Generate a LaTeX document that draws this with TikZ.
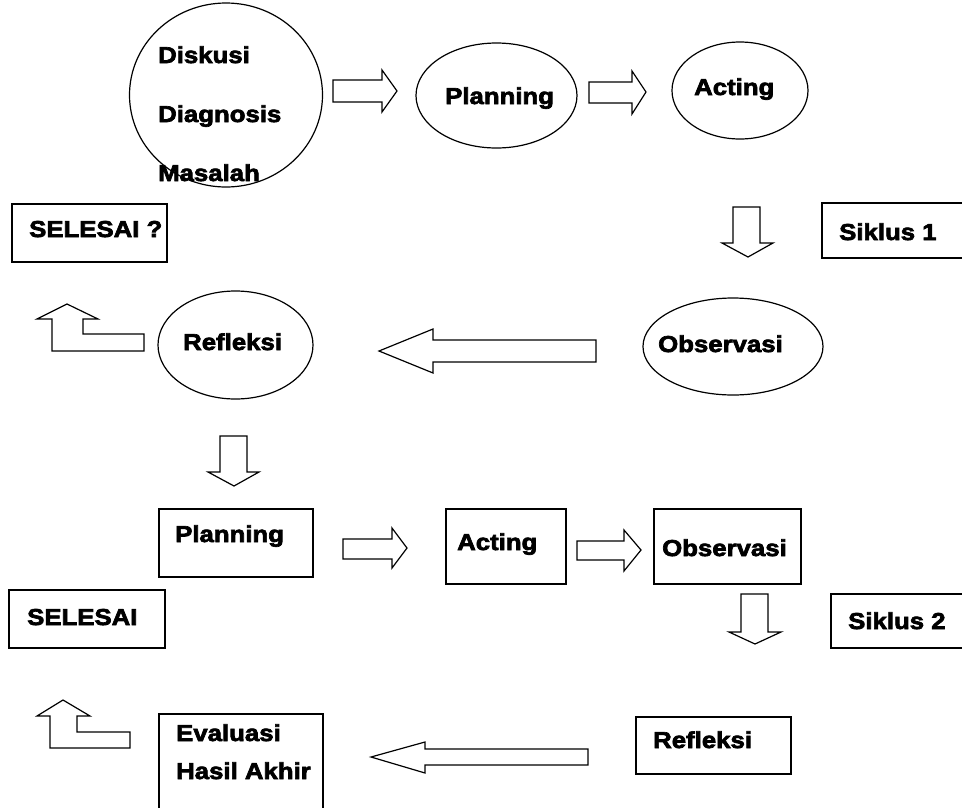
\documentclass[tikz,border=0pt]{standalone}
\usepackage{fontspec}
\usetikzlibrary{shapes.geometric}
\newfontfamily\blk{Liberation Sans}[UprightFont={* Bold}, FakeStretch=1.12, FakeBold=3]
\begin{document}
\begin{tikzpicture}[x=1pt,y=-1pt,
  shp/.style={draw=black, line width=1.2pt, inner sep=0pt},
  oval/.style={shp, ellipse},
  lbl/.style={anchor=base west, inner sep=0pt, font=\blk\fontsize{23}{26}\selectfont},
  blockarrow/.style={draw=black, line width=1.2pt, fill=white, line join=miter}]
\useasboundingbox (0,0) rectangle (962,807);
\clip (0,0) rectangle (962,807);
% ellipses (row 1 and 3)
\node[oval, minimum width=193pt, minimum height=184pt] (diskA) at (226,95) {};
\node[oval, minimum width=161pt, minimum height=105pt] (planA) at (496.5,95.5) {};
\node[oval, minimum width=136pt, minimum height=97pt] (actA) at (740,90.5) {};
\node[oval, minimum width=155pt, minimum height=108pt] (refA) at (235.5,345) {};
\node[oval, minimum width=180pt, minimum height=97pt] (obsA) at (733,346.5) {};
% boxes
\draw[shp] (12,204) rectangle (167,262);
\draw[shp] (822,203) rectangle (980,258);
\draw[shp] (159,509) rectangle (313,577);
\draw[shp] (446,509) rectangle (566,584);
\draw[shp] (654,509) rectangle (801,584);
\draw[shp] (831,594) rectangle (980,648);
\draw[shp] (9,590) rectangle (165,648);
\draw[shp] (159,714) rectangle (323,830);
\draw[shp] (636,717) rectangle (791,774);
% texts
\node[lbl] (t1) at (158,63) {Diskusi};
\node[lbl] (t2) at (158,122) {Diagnosis};
\node[lbl] (t3) at (158,181) {Masalah};
\node[lbl] (t4) at (445,104) {Planning};
\node[lbl] (t5) at (694,95) {Acting};
\node[lbl] (t6) at (29,237) {SELESAI ?};
\node[lbl] (t7) at (839,240) {Siklus 1};
\node[lbl] (t8) at (183,350) {Refleksi};
\node[lbl] (t9) at (658,352) {Observasi};
\node[lbl] (t10) at (175,542) {Planning};
\node[lbl] (t11) at (457,550) {Acting};
\node[lbl] (t12) at (662,556) {Observasi};
\node[lbl] (t13) at (848,629) {Siklus 2};
\node[lbl] (t14) at (27,625) {SELESAI};
\node[lbl] (t15) at (176,741) {Evaluasi};
\node[lbl] (t16) at (176,779) {Hasil Akhir};
\node[lbl] (t17) at (653,748) {Refleksi};
% block arrows
\draw[blockarrow] (333,80) -- (382,80) -- (382,70) -- (397,91) -- (382,112) -- (382,102) -- (333,102) -- cycle;
\draw[blockarrow] (589,82) -- (632,82) -- (632,71) -- (646,92) -- (632,114) -- (632,103) -- (589,103) -- cycle;
\draw[blockarrow] (733,207) -- (760,207) -- (760,243) -- (773,243) -- (748,257) -- (722,243) -- (733,243) -- cycle;
\draw[blockarrow] (596,340) -- (433,340) -- (433,329) -- (379,351) -- (433,373) -- (433,362) -- (596,362) -- cycle;
\draw[blockarrow] (144,334) -- (83,334) -- (83,319) -- (98,319) -- (67,304) -- (37,319) -- (52,319) -- (52,351) -- (144,351) -- cycle;
\draw[blockarrow] (220,436) -- (247,436) -- (247,472) -- (259,472) -- (234,486) -- (208,472) -- (220,472) -- cycle;
\draw[blockarrow] (343,539) -- (392,539) -- (392,528) -- (407,548) -- (392,568) -- (392,559) -- (343,559) -- cycle;
\draw[blockarrow] (577,541) -- (624,541) -- (624,530) -- (641,550) -- (624,571) -- (624,560) -- (577,560) -- cycle;
\draw[blockarrow] (741,594) -- (768,594) -- (768,632) -- (781,632) -- (755,644) -- (729,632) -- (741,632) -- cycle;
\draw[blockarrow] (588,749) -- (425,749) -- (425,742) -- (371,757) -- (425,773) -- (425,765) -- (588,765) -- cycle;
\draw[blockarrow] (130,732) -- (77,732) -- (77,716) -- (90,716) -- (63,700) -- (37,716) -- (50,716) -- (50,748) -- (130,748) -- cycle;
\end{tikzpicture}
\end{document}
